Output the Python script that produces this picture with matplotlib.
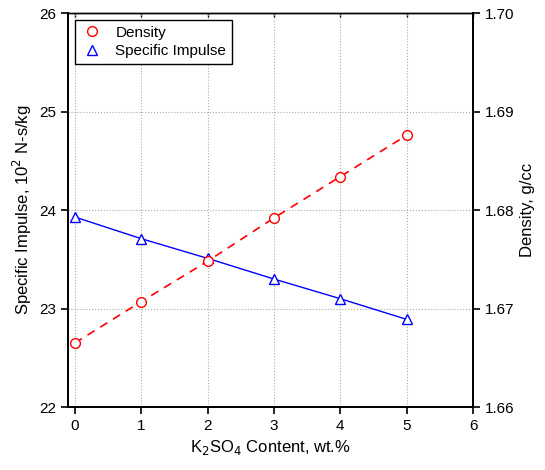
import numpy as np
import matplotlib
matplotlib.use('Agg')
import matplotlib.pyplot as plt

plt.rcParams['font.family'] = ['Liberation Sans', 'DejaVu Sans']

content = [0, 1, 2, 3, 4, 5]
impulse = [23.93, 23.71, 23.51, 23.30, 23.10, 22.89]
density = [1.6665, 1.6707, 1.6748, 1.6792, 1.6834, 1.6876]

fig = plt.figure(figsize=(5.45, 4.7), dpi=100)
ax = fig.add_axes([0.125, 0.134, 0.743, 0.838])
ax2 = ax.twinx()

ax.plot(content, impulse, color='blue', lw=1, marker='^', ms=7, mfc='white', mec='blue', mew=1,
        label='Specific Impulse', zorder=3)
ax2.plot(content, density, color='red', lw=1.2, ls=(0, (5, 4)), marker='o', ms=7, mfc='white',
         mec='red', mew=1, label='Density', zorder=3)

ax.set_xlim(-0.1, 6)
ax.set_ylim(22, 26)
ax2.set_ylim(1.66, 1.70)
ax.set_xticks(range(7))
ax.set_yticks([22, 23, 24, 25, 26])
ax2.set_yticks([1.66, 1.67, 1.68, 1.69, 1.70])
ax2.set_yticklabels(['1.66', '1.67', '1.68', '1.69', '1.70'])
ax.grid(True, color='#aaaaaa', ls=':', lw=0.8)

for a in (ax, ax2):
    a.tick_params(direction='out', length=5, width=1.2, labelsize=11)
    for s in a.spines.values():
        s.set_linewidth(1.3)
ax.spines['top'].set_linewidth(1)
ax2.spines['top'].set_linewidth(1)
# short inward ticks on the top spine
secx = ax.secondary_xaxis('top')
secx.set_xticks(range(7))
secx.tick_params(direction='in', length=3, width=1, labeltop=False)
secx.spines['top'].set_visible(False)

ax.set_xlabel('K$_2$SO$_4$ Content, wt.%', fontsize=12)
ax.set_ylabel('Specific Impulse, 10$^2$ N-s/kg', fontsize=12)
ax2.set_ylabel('Density, g/cc', fontsize=12)

h1, l1 = ax2.get_legend_handles_labels()
h2, l2 = ax.get_legend_handles_labels()
leg = ax2.legend(h1 + h2, l1 + l2, loc='upper left',
                 bbox_to_anchor=(0.017, 0.982), fancybox=False, edgecolor='black',
                 fontsize=11, handlelength=1.5, borderaxespad=0, framealpha=1,
                 labelspacing=0.3, borderpad=0.35)
leg.get_frame().set_linewidth(1)
for h in leg.legend_handles:
    h.set_linestyle('none')

fig.savefig('out.png', dpi=100)
